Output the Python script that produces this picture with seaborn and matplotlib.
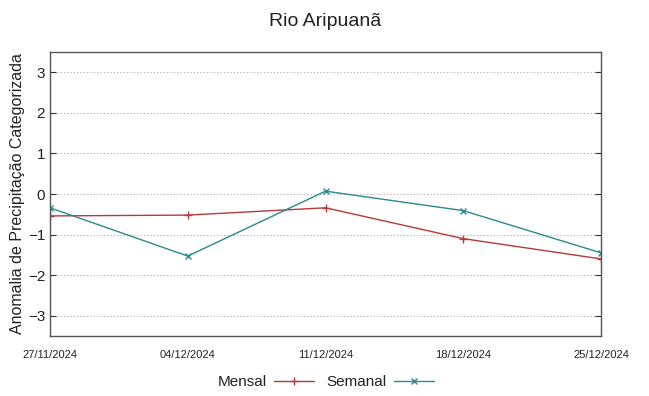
import matplotlib
matplotlib.use("Agg")
import matplotlib.pyplot as plt
import matplotlib.dates as mdates
import seaborn as sns
import pandas as pd

dates = ["2024-11-27", "2024-12-04", "2024-12-11", "2024-12-18", "2024-12-25"]
mensal = [-0.54, -0.52, -0.34, -1.10, -1.60]
semanal = [-0.34, -1.53, 0.07, -0.41, -1.45]
yticks = [-3, -2, -1, 0, 1, 2, 3]

sns.set_style("white")
plt.rcParams['font.family'] = ['Liberation Sans', 'DejaVu Sans']
plt.rcParams['text.color'] = '#222222'
plt.rcParams['xtick.color'] = '#222222'
plt.rcParams['ytick.color'] = '#222222'
plt.rcParams['axes.labelcolor'] = '#222222'

df = pd.DataFrame({"data": pd.to_datetime(dates), "Mensal": mensal, "Semanal": semanal})

fig = plt.figure(figsize=(6.49, 3.96), dpi=100)
ax = fig.add_axes([50/649, 1-336/396, (601-50)/649, (336-52)/396])

c1 = "#b53a3a"
c2 = "#2b8a8a"
sns.lineplot(data=df, x="data", y="Mensal", ax=ax, color=c1, marker="+",
             markersize=6, markeredgewidth=1, markeredgecolor=c1, linewidth=1, label="Mensal")
sns.lineplot(data=df, x="data", y="Semanal", ax=ax, color=c2, marker="x",
             markersize=5, markeredgewidth=1, markeredgecolor=c2, linewidth=1, label="Semanal")

ax.set_ylim(-3.5, 3.5)
ax.set_yticks(yticks)
ax.set_xlim(df["data"].iloc[0], df["data"].iloc[-1])
ax.set_xticks(df["data"])
ax.xaxis.set_major_formatter(mdates.DateFormatter("%d/%m/%Y"))
ax.yaxis.grid(True, linestyle=(0, (1, 2)), color="#aaaaaa", linewidth=0.8)
ax.tick_params(axis="y", direction="in", length=4, labelsize=11, right=True, left=True, color="#333333")
ax.tick_params(axis="x", direction="in", length=4, labelsize=8, top=False, pad=10, color="#333333")
for s in ax.spines.values():
    s.set_color("#555555")
    s.set_linewidth(1)
ax.set_xlabel("")
ax.set_ylabel("Anomalia de Precipitação Categorizada", fontsize=11.5, labelpad=2)
ax.set_title("Rio Aripuanã", fontsize=14, pad=19)

ax.legend(loc="center", bbox_to_anchor=(0.5, -0.162), ncol=2, frameon=False,
          markerfirst=False, fontsize=11, handlelength=2.6, columnspacing=0.8,
          handletextpad=0.5, borderpad=0.2)

fig.savefig("out.png", dpi=100)
